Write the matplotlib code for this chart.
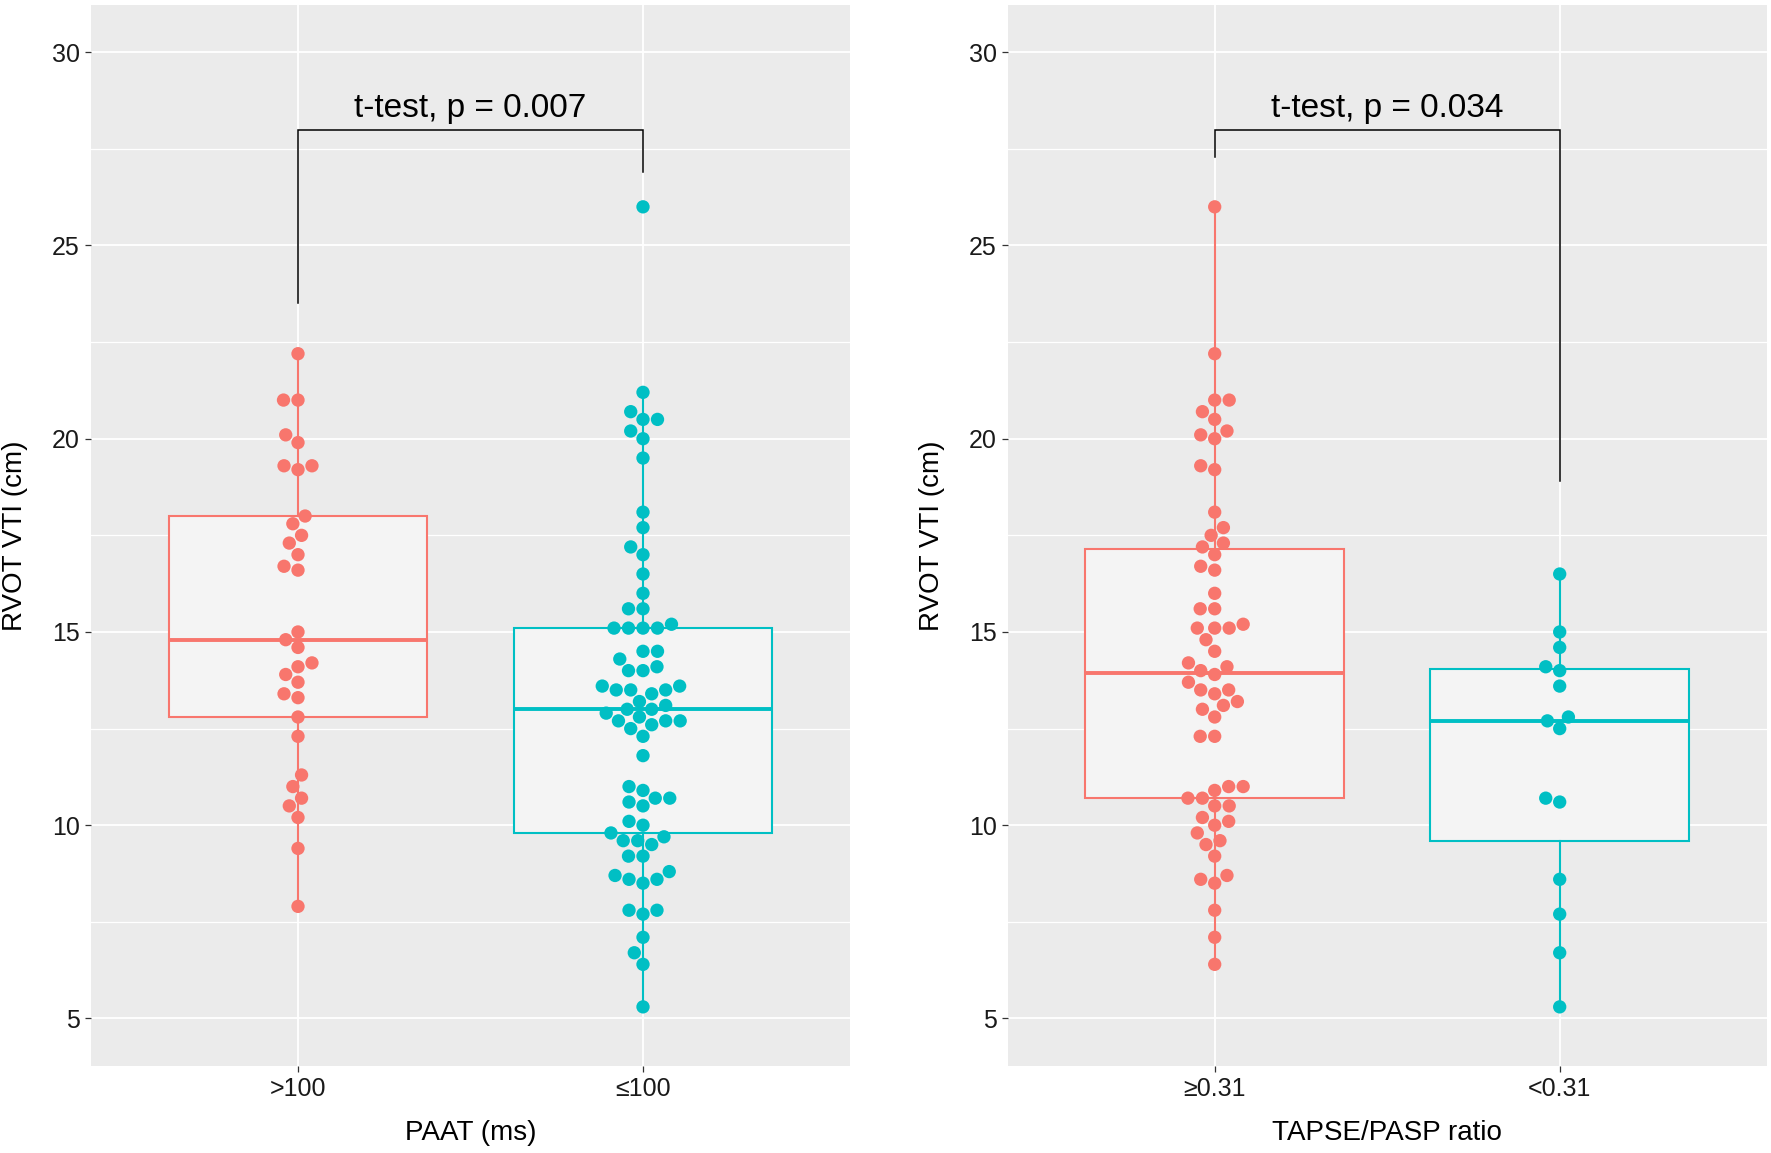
import numpy as np
import matplotlib.pyplot as plt

plt.rcParams['font.family'] = ['Liberation Sans', 'DejaVu Sans']

#%% DATA (RVOT VTI in cm)

paat_groups = ['>100', '≤100']
paat_gt100 = [22.2, 21.0, 21.0, 20.1, 19.9, 19.3, 19.2, 19.3, 18.0, 17.8, 17.5,
              17.3, 17.0, 16.6, 16.7, 15.0, 14.8, 14.6, 14.1, 14.2, 13.9, 13.7,
              13.3, 13.4, 12.8, 12.3, 11.3, 11.0, 10.7, 10.5, 10.2, 9.4, 7.9]
paat_le100 = [26.0, 21.2, 20.7, 20.5, 20.5, 20.2, 20.0, 19.5, 18.1, 17.7, 17.2,
              17.0, 16.5, 16.0, 15.6, 15.6, 15.2, 15.1, 15.1, 15.1, 15.1, 14.5,
              14.5, 14.3, 14.1, 14.0, 14.0, 13.6, 13.6, 13.5, 13.4, 13.5, 13.5,
              13.2, 13.1, 13.0, 13.0, 12.9, 12.8, 12.7, 12.7, 12.6, 12.7, 12.5,
              12.3, 11.8, 11.0, 10.9, 10.7, 10.7, 10.6, 10.5, 10.1, 10.0, 9.8,
              9.7, 9.6, 9.6, 9.5, 9.2, 9.2, 8.8, 8.6, 8.5, 8.6, 8.7, 7.8, 7.7,
              7.8, 7.1, 6.7, 6.4, 5.3]

ratio_groups = ['≥0.31', '<0.31']
ratio_ge031 = [26.0, 22.2, 21.0, 21.0, 20.7, 20.5, 20.2, 20.1, 20.0, 19.3, 19.2,
               18.1, 17.7, 17.5, 17.3, 17.2, 17.0, 16.7, 16.6, 16.0, 15.6, 15.6,
               15.2, 15.1, 15.1, 15.1, 14.8, 14.5, 14.2, 14.1, 13.9, 14.0, 13.7,
               13.4, 13.5, 13.5, 13.2, 13.1, 13.0, 12.8, 12.3, 12.3, 11.0, 11.0,
               10.9, 10.7, 10.7, 10.5, 10.5, 10.2, 10.1, 10.0, 9.8, 9.6, 9.5,
               9.2, 8.7, 8.6, 8.5, 7.8, 7.1, 6.4]
ratio_lt031 = [16.5, 15.0, 14.6, 14.1, 14.0, 13.6, 12.8, 12.7, 12.5, 10.7, 10.6,
               8.6, 7.7, 6.7, 5.3]

x_titles = ['PAAT (ms)', 'TAPSE/PASP ratio']
p_labels = ['t-test, p = 0.007', 't-test, p = 0.034']
bracket_top = [28.0, 28.0]
bracket_ends = [(23.5, 26.9), (27.3, 18.9)]

colors = ['#F8766D', '#00BFC4']

#%% HELPERS

def swarm_offsets(vals, dx, dy):
    # simple beeswarm: place points bottom-up, as close to the centre as possible
    ys = np.asarray(vals, dtype=float) / dy
    offs = np.zeros(len(ys))
    placed = []
    for i in np.argsort(ys, kind='stable'):
        y = ys[i]
        near = [(px, py) for px, py in placed if abs(py - y) < 1]
        cands = [0.0]
        for px, py in near:
            h = np.sqrt(1 - (py - y) ** 2)
            cands += [px - h, px + h]
        cands.sort(key=lambda c: (round(abs(c), 6), c))
        for c in cands:
            if all((c - px) ** 2 + (y - py) ** 2 >= 1 - 1e-6 for px, py in near):
                offs[i] = c
                placed.append((c, y))
                break
    return offs * dx


#%% FIGURE

fig = plt.figure(figsize=(17.71, 11.53), dpi=100)
W, H = 1771, 1153
ax_boxes = [(91, 4.7, 850, 1066), (1007.7, 4.7, 1766.7, 1066)]
ylim = (3.77, 31.23)
xlim = (0.4, 2.6)
dot_px = 14.5

panels = [(paat_groups, [paat_gt100, paat_le100]),
          (ratio_groups, [ratio_ge031, ratio_lt031])]

for k, (groups, data) in enumerate(panels):
    x0, y0, x1, y1 = ax_boxes[k]
    ax = fig.add_axes([x0 / W, 1 - y1 / H, (x1 - x0) / W, (y1 - y0) / H])
    ax.set_facecolor('#EBEBEB')
    for s in ax.spines.values():
        s.set_visible(False)

    # pixels per data unit, for the swarm spacing
    px_x = (x1 - x0) / (xlim[1] - xlim[0])
    px_y = (y1 - y0) / (ylim[1] - ylim[0])

    for j, vals in enumerate(data):
        col = colors[j]
        pos = j + 1
        ax.boxplot([vals], positions=[pos], widths=0.75, whis=1.5,
                   showfliers=False, showcaps=False, patch_artist=True,
                   boxprops=dict(facecolor='#F4F4F4', edgecolor=col, linewidth=1.5),
                   medianprops=dict(color=col, linewidth=2.8),
                   whiskerprops=dict(color=col, linewidth=1.5),
                   zorder=2)
        offs = swarm_offsets(vals, dot_px / px_x, dot_px / px_y)
        ax.scatter(pos + offs, vals, s=92, color=col, edgecolors='none', zorder=3)

    ax.set_xlim(*xlim)
    ax.set_ylim(*ylim)
    ax.set_yticks([5, 10, 15, 20, 25, 30])
    ax.set_yticks([7.5, 12.5, 17.5, 22.5, 27.5], minor=True)
    ax.set_xticks([1, 2])
    ax.set_xticklabels(groups)
    ax.grid(True, which='major', color='white', lw=1.3)
    ax.grid(True, which='minor', axis='y', color='white', lw=0.9)
    ax.set_axisbelow(True)
    ax.tick_params(which='major', length=4, width=0.9, color='#333333',
                   labelsize=18, labelcolor='#1a1a1a', pad=4)
    ax.tick_params(which='minor', length=0)

    # significance bracket
    top = bracket_top[k]
    l, r = bracket_ends[k]
    ax.plot([1, 1, 2, 2], [l, top, top, r], color='black', lw=1.1, zorder=4,
            solid_joinstyle='miter')
    ax.text(1.5, top + 0.15, p_labels[k], ha='center', va='bottom', fontsize=24,
            color='black', zorder=5)

    ax.set_xlabel(x_titles[k], fontsize=20, color='black')
    ax.xaxis.set_label_coords(0.5, (1066 - 1133) / (y1 - y0))
    ax.xaxis.label.set_va('center')
    ax.set_ylabel('RVOT VTI (cm)', fontsize=20, color='black')
    ax.yaxis.set_label_coords(-0.1, 0.5)
    ax.yaxis.label.set_va('center')

fig.savefig('out.png', dpi=100, facecolor='white')
